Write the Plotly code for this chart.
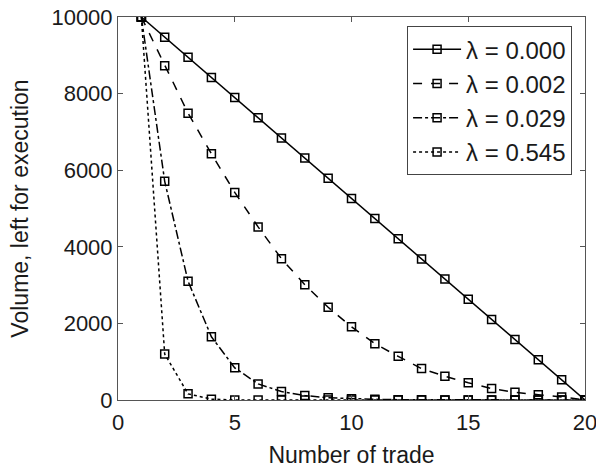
import plotly.graph_objects as go

# Number of the trade in the execution schedule
trade = list(range(1, 21))

# Remaining volume for each risk-aversion level
vol_l0000 = [10000, 9474, 8947, 8421, 7895, 7368, 6842, 6316, 5789, 5263,
             4737, 4211, 3684, 3158, 2632, 2105, 1579, 1053, 526, 0]
vol_l0002 = [10000, 8730, 7490, 6430, 5420, 4520, 3690, 3010, 2420, 1910,
             1470, 1140, 820, 620, 450, 300, 200, 140, 80, 0]
vol_l0029 = [10000, 5710, 3100, 1650, 840, 420, 220, 115, 60, 32,
             17, 9, 5, 3, 2, 1, 1, 0, 0, 0]
vol_l0545 = [10000, 1200, 160, 22, 3, 0, 0, 0, 0, 0,
             0, 0, 0, 0, 0, 0, 0, 0, 0, 0]

labels = ["λ = 0.000", "λ = 0.002", "λ = 0.029", "λ = 0.545"]
dashes = ["solid", "dash", "dashdot", "dot"]
series = [vol_l0000, vol_l0002, vol_l0029, vol_l0545]

x_ticks = [0, 5, 10, 15, 20]
y_ticks = [0, 2000, 4000, 6000, 8000, 10000]

FONT = "Liberation Sans, Arial, sans-serif"
TEXT = "#1a1a1a"

fig = go.Figure()
for name, dash, ys in zip(labels, dashes, series):
    fig.add_trace(go.Scatter(
        x=trade, y=ys, name=name, mode="lines+markers",
        legendgroup=name,
        line=dict(color="black", width=1.5, dash=dash),
        marker=dict(symbol="square-open", size=8, color="black",
                    line=dict(width=1.5, color="black")),
    ))

axis_common = dict(
    showline=True, linecolor="#555", linewidth=1, mirror="ticks",
    ticks="inside", ticklen=5, tickcolor="#555", tickwidth=1,
    showgrid=False, zeroline=False, automargin=False,
    ticklabeloverflow="allow",
    tickfont=dict(family=FONT, size=22, color=TEXT),
)

fig.update_layout(
    width=596, height=471,
    margin=dict(l=118, r=11, t=17, b=71),
    paper_bgcolor="white", plot_bgcolor="white",
    font=dict(family=FONT, color=TEXT),
    showlegend=True,
    legend=dict(
        x=0.619, y=0.976, xanchor="left", yanchor="top",
        bgcolor="white", bordercolor="#444", borderwidth=1,
        font=dict(family=FONT, size=24, color=TEXT),
        tracegroupgap=0, itemwidth=48,
    ),
    xaxis=dict(range=[0, 20], tickvals=x_ticks,
               ticktext=[str(v) for v in x_ticks],
               ticklabelstandoff=3,
               title=dict(text="Number of trade", standoff=12,
                          font=dict(family=FONT, size=23, color=TEXT)),
               **axis_common),
    yaxis=dict(range=[0, 10000], tickvals=y_ticks,
               ticktext=[str(v) for v in y_ticks],
               title=dict(text="Volume, left for execution", standoff=16,
                          font=dict(family=FONT, size=23, color=TEXT)),
               **axis_common),
)

fig.write_html("out.html")
